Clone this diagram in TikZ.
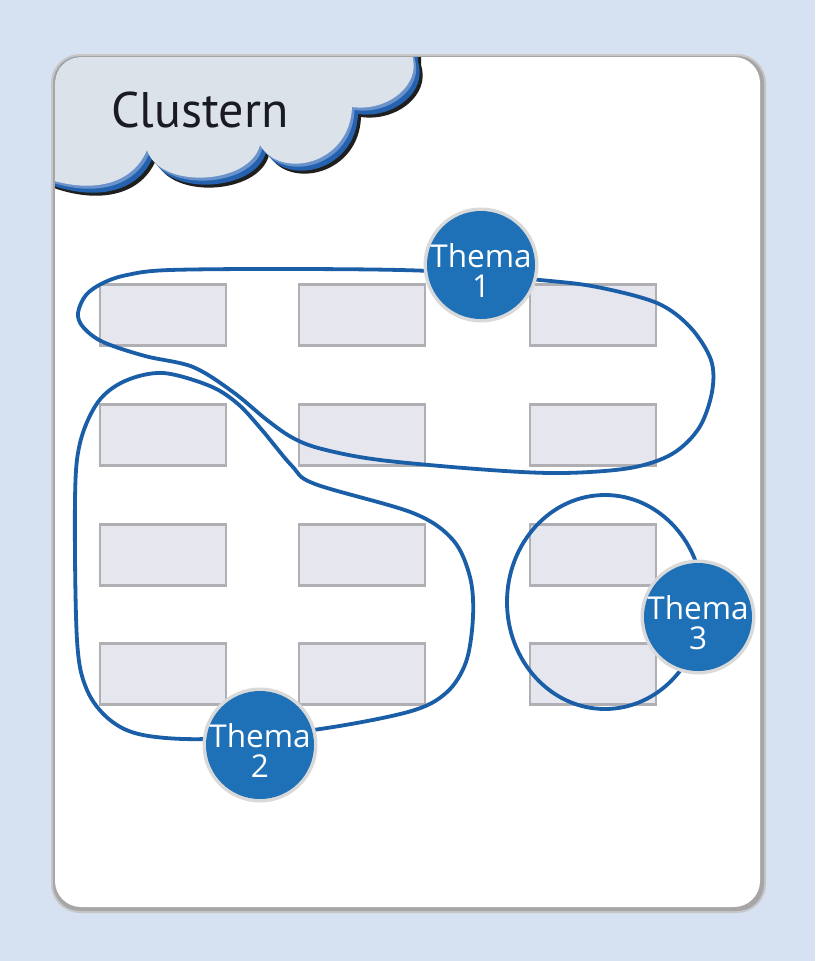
\documentclass[tikz,border=0pt]{standalone}
\usepackage{fontspec}
\setmainfont{PT Sans}
\newfontfamily\dotfont{Open Sans}
\definecolor{bgblue}{HTML}{D6E1F1}
\definecolor{loopblue}{HTML}{1A5EA8}
\definecolor{dotblue}{HTML}{1F71B7}
\definecolor{cloudfill}{HTML}{DCE2EA}
\definecolor{cloudlight}{HTML}{6A93CC}
\definecolor{cloudblue}{HTML}{2461AE}
\definecolor{rectfill}{HTML}{E6E6EE}
\definecolor{rectline}{HTML}{AFAFB4}
\definecolor{titletext}{HTML}{1A1A24}
\tikzset{
  card/.style={fill=white, rounded corners=26pt},
  slot/.style={draw=rectline, fill=rectfill, line width=2.5pt, minimum width=126pt, minimum height=61pt, inner sep=0pt},
  loopline/.style={draw=loopblue, line width=3.8pt},
  themadot/.style={circle, fill=dotblue, minimum size=108pt, inner sep=0pt},
  themalabel/.style={text=white, align=center, inner sep=0pt, font=\dotfont\fontsize{31.5}{30}\selectfont},
  halo/.style={circle, fill=black!15, minimum size=115pt, inner sep=0pt}
}
\begin{document}
\begin{tikzpicture}[x=1pt,y=-1pt]
\useasboundingbox (0,0) rectangle (815,961);
\fill[bgblue] (0,0) rectangle (815,961);
% card shadow
\fill[black!22, rounded corners=29pt] (51,54) rectangle (766,913);
\fill[black!35, rounded corners=27pt] (53,56) rectangle (764,911);
\fill[card] (55,57) rectangle (760,907);
% cloud
\begin{scope}
\clip[rounded corners=26pt] (55,57) rectangle (760,907);
\def\cloudpath{(30,30) -- (412,30) -- (412,55) .. controls (422,85) and (387,112) .. (352,107) .. controls (350,165) and (280,180) .. (260,145) .. controls (250,185) and (160,190) .. (147,150) .. controls (130,190) and (80,195) .. (30,172) -- cycle}
\fill[black!88, shift={(9pt,-10pt)}] \cloudpath;
\fill[cloudblue, shift={(6pt,-7pt)}] \cloudpath;
\fill[cloudlight, shift={(2.5pt,-3pt)}] \cloudpath;
\fill[cloudfill] \cloudpath;
\end{scope}
\node[text=titletext] (title) at (200,110) {\fontsize{50}{50}\selectfont Clustern};
% slots
\foreach \r/\y in {1/315,2/435,3/555,4/674} {
  \foreach \c/\x in {1/163,2/362,3/593} {
    \node[slot] (s\r\c) at (\x,\y) {};
  }
}
% loops
\draw[loopline] plot[smooth cycle, tension=0.55] coordinates {(127,275) (170,270) (300,269) (430,271) (540,280) (597,287) (657,303) (690,327) (711,360) (712,392) (699,428) (672,454) (630,468) (563,473) (490,470) (380,460) (322,449) (293,438) (267,420) (233,392) (193,367) (145,356) (103,342) (83,327) (78,313) (86,295) (103,283)};
\draw[loopline] plot[smooth cycle, tension=0.55] coordinates {(163,373) (210,386) (238,404) (262,430) (292,466) (315,484) (413,513) (453,540) (470,577) (473,617) (466,662) (446,693) (408,712) (313,730) (207,739) (143,735) (110,720) (87,690) (77,640) (75,500) (80,443) (98,402) (125,381)};
\draw[loopline] (605,602) ellipse [x radius=98, y radius=107];
% thema circles
\node[halo] (h1) at (481,265) {};
\node[halo] (h2) at (260,745) {};
\node[halo] (h3) at (698,617) {};
\node[themadot] (th1) at (481,265) {};
\node[themadot] (th2) at (260,745) {};
\node[themadot] (th3) at (698,617) {};
\node[themalabel] (l1) at (481,271) {Thema\\1};
\node[themalabel] (l2) at (260,751) {Thema\\2};
\node[themalabel] (l3) at (698,623) {Thema\\3};
\end{tikzpicture}
\end{document}
